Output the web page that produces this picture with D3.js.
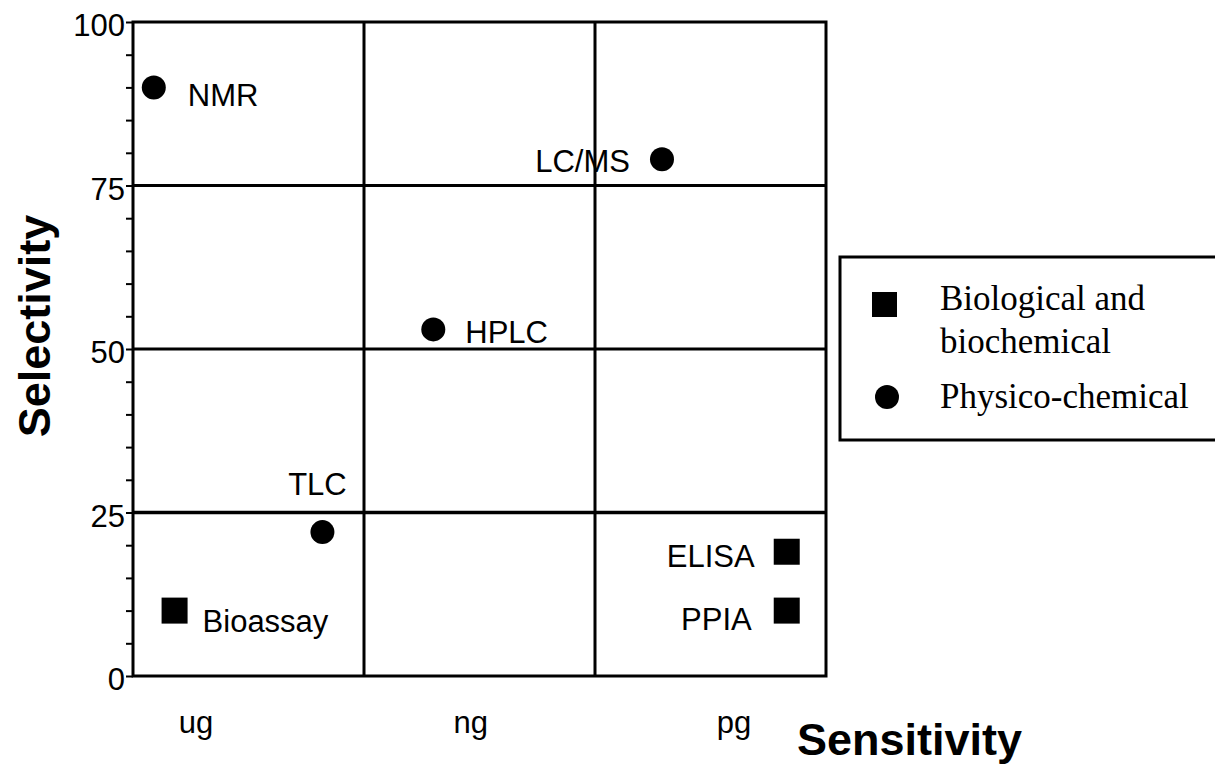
<!DOCTYPE html>
<html>
<head>
<meta charset="utf-8">
<script src="https://cdn.jsdelivr.net/npm/d3@7"></script>
<style>
  body { margin: 0; background: #fff; }
  svg { display: block; }
  .lbl { font-family: "Liberation Sans", Arial, sans-serif; font-size: 31px; fill: #000; }
  .ttl { font-family: "Liberation Sans", Arial, sans-serif; font-size: 45px; font-weight: bold; fill: #000; }
  .leg { font-family: "Liberation Serif", "Times New Roman", serif; font-size: 35px; fill: #000; }
</style>
</head>
<body>
<svg width="1215" height="766"></svg>
<script>
// methods and where they sit (x: 0..3 across ug/ng/pg, y: selectivity 0..100)
let methods = ["NMR", "LC/MS", "HPLC", "TLC", "Bioassay", "ELISA", "PPIA"]
let sensitivity = [0.09, 2.29, 1.30, 0.82, 0.18, 2.83, 2.83]
let selectivity = [90, 79, 53, 22, 10, 19, 10]
let kind = ["phys", "phys", "phys", "phys", "bio", "bio", "bio"]

let sensTicks = [0.27, 1.46, 2.6]
let sensLabels = ["ug", "ng", "pg"]
let selTicks = [0, 25, 50, 75, 100]
let gridX = [1, 2]

let legendLabels = [["Biological and", "biochemical"], ["Physico-chemical"]]
let legendKinds = ["bio", "phys"]

// label placement for each method: [dx, dy, anchor]
let labelPlace = {
    "NMR": [34, 7, "start"],
    "LC/MS": [-32, 1, "end"],
    "HPLC": [32, 2, "start"],
    "TLC": [-5, -48, "middle"],
    "Bioassay": [28, 10, "start"],
    "ELISA": [-32, 4, "end"],
    "PPIA": [-35, 8, "end"]
}

let dims = { left: 133, right: 826, top: 22, bottom: 676 }

let svg = d3.select("svg")
let x = d3.scaleLinear().domain([0, 3]).range([dims.left, dims.right])
let y = d3.scaleLinear().domain([0, 100]).range([dims.bottom, dims.top])

// grid
let grid = svg.append("g").attr("stroke", "#000").attr("stroke-width", 3)
grid.selectAll("line.v").data(gridX).enter().append("line")
    .attr("x1", d => x(d)).attr("x2", d => x(d))
    .attr("y1", dims.top).attr("y2", dims.bottom)
grid.selectAll("line.h").data(selTicks.slice(1, 4)).enter().append("line")
    .attr("x1", dims.left).attr("x2", dims.right)
    .attr("y1", d => y(d)).attr("y2", d => y(d))
    .attr("stroke-width", d => d == 25 ? 3.5 : 3)
grid.append("rect")
    .attr("x", dims.left).attr("y", dims.top)
    .attr("width", dims.right - dims.left).attr("height", dims.bottom - dims.top)
    .attr("fill", "none")

// y axis with minor ticks every 5
let yAxis = svg.append("g")
    .attr("transform", `translate(${dims.left},0)`)
    .call(d3.axisLeft(y)
        .tickValues(d3.range(0, 101, 5))
        .tickSize(7)
        .tickPadding(1)
        .tickFormat(d => selTicks.includes(d) ? d : ""))
yAxis.select(".domain").remove()
yAxis.selectAll(".tick line").attr("stroke", "#000").attr("stroke-width", 2)
yAxis.selectAll(".tick text")
    .attr("class", "lbl")
    .attr("font-size", null).attr("font-family", null)
    .attr("dy", "0.45em")

// x labels
let xAxis = svg.append("g")
    .attr("transform", `translate(0,${dims.bottom})`)
    .call(d3.axisBottom(x)
        .tickValues(sensTicks)
        .tickSize(0)
        .tickFormat((d, i) => sensLabels[i]))
xAxis.select(".domain").remove()
xAxis.selectAll(".tick text")
    .attr("class", "lbl")
    .attr("font-size", null).attr("font-family", null)
    .attr("y", 57).attr("dy", 0)

// axis titles
svg.append("text").attr("class", "ttl")
    .attr("x", 1022).attr("y", 755).attr("text-anchor", "end")
    .text("Sensitivity")
svg.append("text").attr("class", "ttl")
    .attr("transform", "translate(50,326) rotate(-90)")
    .attr("text-anchor", "middle")
    .text("Selectivity")

// marks
let pts = methods.map((m, i) => ({ name: m, sx: sensitivity[i], sy: selectivity[i], kind: kind[i] }))
let marks = svg.append("g")
marks.selectAll("circle").data(pts.filter(d => d.kind == "phys")).enter().append("circle")
    .attr("cx", d => x(d.sx)).attr("cy", d => y(d.sy)).attr("r", 12).attr("fill", "#000")
marks.selectAll("rect").data(pts.filter(d => d.kind == "bio")).enter().append("rect")
    .attr("x", d => x(d.sx) - 13).attr("y", d => y(d.sy) - 13)
    .attr("width", 26).attr("height", 26).attr("fill", "#000")
marks.selectAll("text").data(pts).enter().append("text")
    .attr("class", "lbl")
    .attr("x", d => x(d.sx) + labelPlace[d.name][0])
    .attr("y", d => y(d.sy) + labelPlace[d.name][1])
    .attr("dy", "0.36em")
    .attr("text-anchor", d => labelPlace[d.name][2])
    .text(d => d.name)

// legend
let leg = svg.append("g")
leg.append("rect")
    .attr("x", 840).attr("y", 257).attr("width", 420).attr("height", 183)
    .attr("fill", "none").attr("stroke", "#000").attr("stroke-width", 3)
leg.append("rect").attr("x", 872).attr("y", 292).attr("width", 25).attr("height", 25).attr("fill", "#000")
leg.append("circle").attr("cx", 887).attr("cy", 397).attr("r", 12).attr("fill", "#000")
let legLines = [[legendLabels[0][0], 310], [legendLabels[0][1], 353], [legendLabels[1][0], 408]]
leg.selectAll("text").data(legLines).enter().append("text")
    .attr("class", "leg")
    .attr("x", 940).attr("y", d => d[1])
    .text(d => d[0])
</script>
</body>
</html>
